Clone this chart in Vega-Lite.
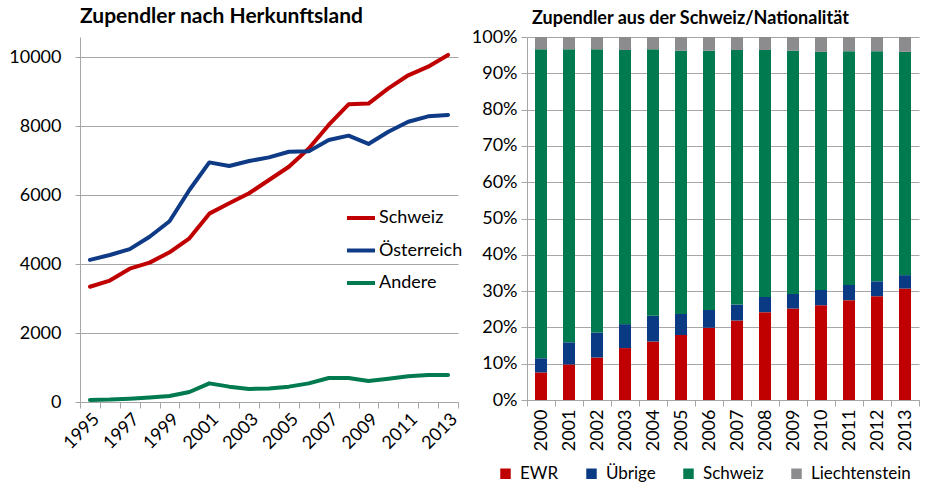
{
  "$schema": "https://vega.github.io/schema/vega-lite/v6.json",
  "background": "white",
  "padding": {"left": 8, "top": 6, "right": 0, "bottom": 0},
  "config": {
    "font": "Lato",
    "view": {"stroke": null},
    "axis": {"labelFont": "Lato", "labelFontSize": 18, "labelColor": "#000000", "domainColor": "#A6A6A6", "tickColor": "#A6A6A6", "gridColor": "#A6A6A6", "titleFont": "Lato"},
    "legend": {"labelFont": "Lato", "labelFontSize": 18, "labelColor": "#000000"}
  },
  "datasets": {
    "lines": [
      {"year": 1995, "land": "Schweiz", "n": 3340}, {"year": 1996, "land": "Schweiz", "n": 3520}, {"year": 1997, "land": "Schweiz", "n": 3865},
      {"year": 1998, "land": "Schweiz", "n": 4040}, {"year": 1999, "land": "Schweiz", "n": 4340}, {"year": 2000, "land": "Schweiz", "n": 4745},
      {"year": 2001, "land": "Schweiz", "n": 5460}, {"year": 2002, "land": "Schweiz", "n": 5760}, {"year": 2003, "land": "Schweiz", "n": 6050},
      {"year": 2004, "land": "Schweiz", "n": 6435}, {"year": 2005, "land": "Schweiz", "n": 6820}, {"year": 2006, "land": "Schweiz", "n": 7350},
      {"year": 2007, "land": "Schweiz", "n": 8030}, {"year": 2008, "land": "Schweiz", "n": 8630}, {"year": 2009, "land": "Schweiz", "n": 8650},
      {"year": 2010, "land": "Schweiz", "n": 9090}, {"year": 2011, "land": "Schweiz", "n": 9470}, {"year": 2012, "land": "Schweiz", "n": 9720},
      {"year": 2013, "land": "Schweiz", "n": 10060},
      {"year": 1995, "land": "Österreich", "n": 4120}, {"year": 1996, "land": "Österreich", "n": 4260}, {"year": 1997, "land": "Österreich", "n": 4430},
      {"year": 1998, "land": "Österreich", "n": 4790}, {"year": 1999, "land": "Österreich", "n": 5240}, {"year": 2000, "land": "Österreich", "n": 6145},
      {"year": 2001, "land": "Österreich", "n": 6945}, {"year": 2002, "land": "Österreich", "n": 6840}, {"year": 2003, "land": "Österreich", "n": 6985},
      {"year": 2004, "land": "Österreich", "n": 7090}, {"year": 2005, "land": "Österreich", "n": 7255}, {"year": 2006, "land": "Österreich", "n": 7265},
      {"year": 2007, "land": "Österreich", "n": 7595}, {"year": 2008, "land": "Österreich", "n": 7720}, {"year": 2009, "land": "Österreich", "n": 7480},
      {"year": 2010, "land": "Österreich", "n": 7835}, {"year": 2011, "land": "Österreich", "n": 8125}, {"year": 2012, "land": "Österreich", "n": 8280},
      {"year": 2013, "land": "Österreich", "n": 8320},
      {"year": 1995, "land": "Andere", "n": 60}, {"year": 1996, "land": "Andere", "n": 70}, {"year": 1997, "land": "Andere", "n": 95},
      {"year": 1998, "land": "Andere", "n": 130}, {"year": 1999, "land": "Andere", "n": 175}, {"year": 2000, "land": "Andere", "n": 290},
      {"year": 2001, "land": "Andere", "n": 540}, {"year": 2002, "land": "Andere", "n": 445}, {"year": 2003, "land": "Andere", "n": 380},
      {"year": 2004, "land": "Andere", "n": 390}, {"year": 2005, "land": "Andere", "n": 445}, {"year": 2006, "land": "Andere", "n": 540},
      {"year": 2007, "land": "Andere", "n": 695}, {"year": 2008, "land": "Andere", "n": 695}, {"year": 2009, "land": "Andere", "n": 610},
      {"year": 2010, "land": "Andere", "n": 675}, {"year": 2011, "land": "Andere", "n": 745}, {"year": 2012, "land": "Andere", "n": 780},
      {"year": 2013, "land": "Andere", "n": 785}
    ],
    "bars": [
      {"year": 2000, "cat": "EWR", "pct": 7.6}, {"year": 2000, "cat": "Übrige", "pct": 3.9}, {"year": 2000, "cat": "Schweiz", "pct": 85.1}, {"year": 2000, "cat": "Liechtenstein", "pct": 3.4},
      {"year": 2001, "cat": "EWR", "pct": 9.8}, {"year": 2001, "cat": "Übrige", "pct": 6.1}, {"year": 2001, "cat": "Schweiz", "pct": 80.7}, {"year": 2001, "cat": "Liechtenstein", "pct": 3.4},
      {"year": 2002, "cat": "EWR", "pct": 11.7}, {"year": 2002, "cat": "Übrige", "pct": 6.9}, {"year": 2002, "cat": "Schweiz", "pct": 78.0}, {"year": 2002, "cat": "Liechtenstein", "pct": 3.4},
      {"year": 2003, "cat": "EWR", "pct": 14.3}, {"year": 2003, "cat": "Übrige", "pct": 6.6}, {"year": 2003, "cat": "Schweiz", "pct": 75.5}, {"year": 2003, "cat": "Liechtenstein", "pct": 3.6},
      {"year": 2004, "cat": "EWR", "pct": 16.1}, {"year": 2004, "cat": "Übrige", "pct": 7.1}, {"year": 2004, "cat": "Schweiz", "pct": 73.4}, {"year": 2004, "cat": "Liechtenstein", "pct": 3.4},
      {"year": 2005, "cat": "EWR", "pct": 17.9}, {"year": 2005, "cat": "Übrige", "pct": 5.8}, {"year": 2005, "cat": "Schweiz", "pct": 72.5}, {"year": 2005, "cat": "Liechtenstein", "pct": 3.8},
      {"year": 2006, "cat": "EWR", "pct": 19.9}, {"year": 2006, "cat": "Übrige", "pct": 4.9}, {"year": 2006, "cat": "Schweiz", "pct": 71.4}, {"year": 2006, "cat": "Liechtenstein", "pct": 3.8},
      {"year": 2007, "cat": "EWR", "pct": 21.9}, {"year": 2007, "cat": "Übrige", "pct": 4.4}, {"year": 2007, "cat": "Schweiz", "pct": 70.1}, {"year": 2007, "cat": "Liechtenstein", "pct": 3.6},
      {"year": 2008, "cat": "EWR", "pct": 24.2}, {"year": 2008, "cat": "Übrige", "pct": 4.2}, {"year": 2008, "cat": "Schweiz", "pct": 68.0}, {"year": 2008, "cat": "Liechtenstein", "pct": 3.6},
      {"year": 2009, "cat": "EWR", "pct": 25.2}, {"year": 2009, "cat": "Übrige", "pct": 4.0}, {"year": 2009, "cat": "Schweiz", "pct": 67.0}, {"year": 2009, "cat": "Liechtenstein", "pct": 3.8},
      {"year": 2010, "cat": "EWR", "pct": 26.1}, {"year": 2010, "cat": "Übrige", "pct": 4.2}, {"year": 2010, "cat": "Schweiz", "pct": 65.6}, {"year": 2010, "cat": "Liechtenstein", "pct": 4.1},
      {"year": 2011, "cat": "EWR", "pct": 27.5}, {"year": 2011, "cat": "Übrige", "pct": 4.2}, {"year": 2011, "cat": "Schweiz", "pct": 64.4}, {"year": 2011, "cat": "Liechtenstein", "pct": 3.9},
      {"year": 2012, "cat": "EWR", "pct": 28.6}, {"year": 2012, "cat": "Übrige", "pct": 4.1}, {"year": 2012, "cat": "Schweiz", "pct": 63.4}, {"year": 2012, "cat": "Liechtenstein", "pct": 3.9},
      {"year": 2013, "cat": "EWR", "pct": 30.7}, {"year": 2013, "cat": "Übrige", "pct": 3.7}, {"year": 2013, "cat": "Schweiz", "pct": 61.5}, {"year": 2013, "cat": "Liechtenstein", "pct": 4.1}
    ]
  },
  "hconcat": [
    {
      "width": 378,
      "height": 365,
      "title": {"text": "Zupendler nach Herkunftsland", "anchor": "start", "frame": "group", "fontSize": 21, "fontWeight": "bold", "font": "Lato", "color": "#000000", "offset": 6, "dy": -4},
      "data": {"name": "lines"},
      "mark": {"type": "line", "strokeWidth": 4, "strokeJoin": "round", "strokeCap": "round"},
      "encoding": {
        "x": {
          "field": "year", "type": "ordinal", "title": null,
          "scale": {"paddingInner": 0, "paddingOuter": 0},
          "axis": {"labelAngle": -45, "tickBand": "extent", "tickSize": 6, "labelPadding": 2, "grid": false,
                   "labelExpr": "datum.value % 2 == 1 ? datum.label : ''"}
        },
        "y": {
          "field": "n", "type": "quantitative", "title": null,
          "scale": {"domain": [0, 10580], "nice": false},
          "axis": {"values": [0, 2000, 4000, 6000, 8000, 10000], "format": "d", "tickSize": 5, "labelPadding": 14, "grid": true}
        },
        "color": {
          "field": "land", "type": "nominal",
          "sort": ["Schweiz", "Österreich", "Andere"],
          "scale": {"domain": ["Schweiz", "Österreich", "Andere"], "range": ["#C00000", "#0E3A86", "#007A4E"]},
          "legend": {"title": null, "orient": "none", "legendX": 265, "legendY": 165, "padding": 0,
                     "symbolType": "stroke", "symbolStrokeWidth": 4, "symbolSize": 784, "rowPadding": 7.5, "labelOffset": 2}
        }
      }
    },
    {
      "width": 392,
      "height": 363,
      "title": {"text": "Zupendler aus der Schweiz/Nationalität", "anchor": "start", "frame": "group", "fontSize": 18, "fontWeight": "bold", "font": "Lato", "color": "#000000", "offset": 4, "dx": 5, "dy": 4},
      "data": {"name": "bars"},
      "transform": [{"calculate": "indexof(['EWR', 'Übrige', 'Schweiz', 'Liechtenstein'], datum.cat)", "as": "stackorder"}],
      "mark": {"type": "bar", "size": 12},
      "encoding": {
        "x": {
          "field": "year", "type": "ordinal", "title": null,
          "scale": {"paddingInner": 0, "paddingOuter": 0},
          "axis": {"labelAngle": -90, "tickBand": "extent", "tickSize": 6, "labelPadding": 3, "grid": false}
        },
        "y": {
          "field": "pct", "type": "quantitative", "title": null, "stack": "normalize",
          "axis": {"values": [0, 0.1, 0.2, 0.3, 0.4, 0.5, 0.6, 0.7, 0.8, 0.9, 1], "format": ".0%", "tickSize": 6, "labelPadding": 4, "grid": true}
        },
        "order": {"field": "stackorder", "type": "quantitative", "sort": "ascending"},
        "color": {
          "field": "cat", "type": "nominal",
          "sort": ["EWR", "Übrige", "Schweiz", "Liechtenstein"],
          "scale": {"domain": ["EWR", "Übrige", "Schweiz", "Liechtenstein"], "range": ["#C00000", "#0B3A84", "#007A4E", "#8C8C8F"]},
          "legend": {"title": null, "orient": "none", "direction": "horizontal", "legendX": -30, "legendY": 428, "padding": 0,
                     "labelFontSize": 17, "symbolType": "square", "symbolSize": 110, "symbolStrokeWidth": 0, "labelOffset": 6, "columnPadding": 24}
        }
      }
    }
  ],
  "spacing": 8,
  "resolve": {"scale": {"color": "independent"}, "legend": {"color": "independent"}}
}
